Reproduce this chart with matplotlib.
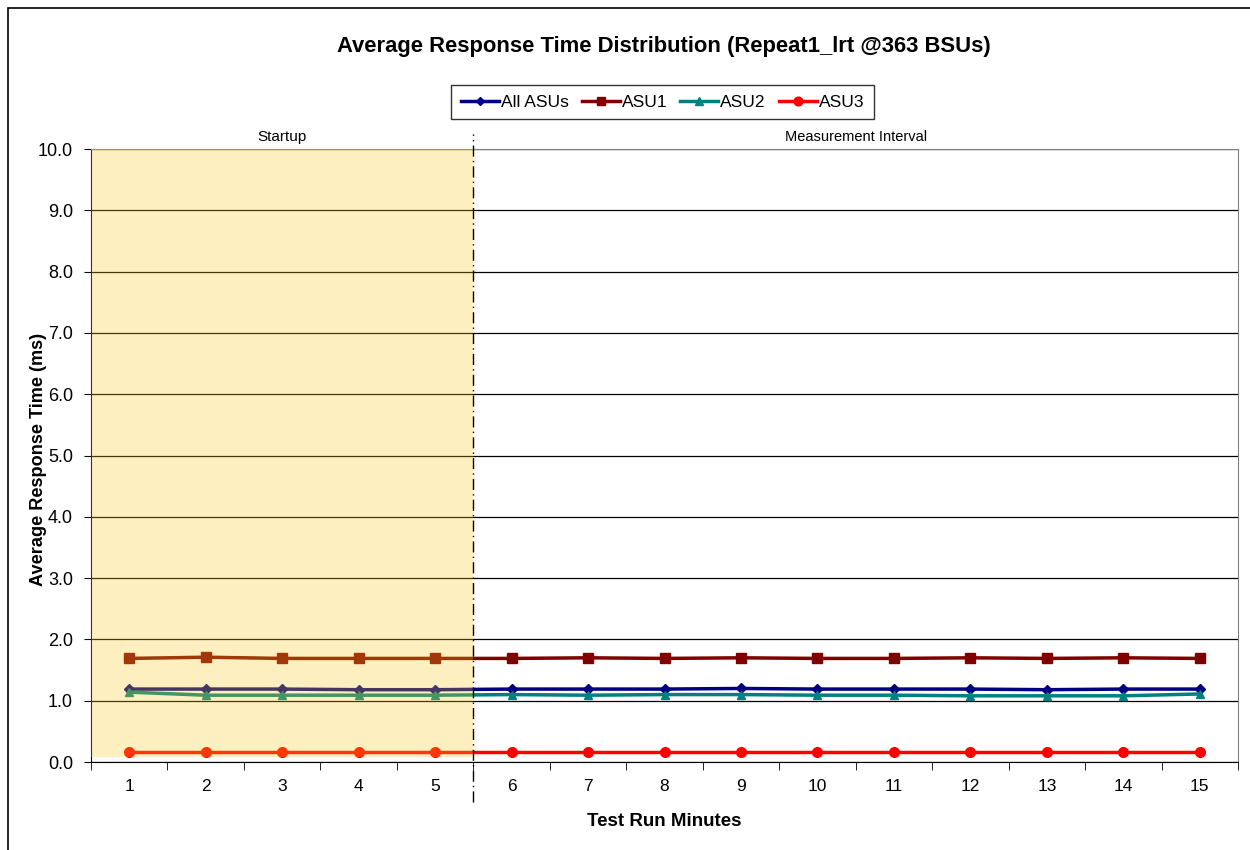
import numpy as np
import matplotlib
matplotlib.use("Agg")
import matplotlib.pyplot as plt
from matplotlib.patches import Rectangle
from matplotlib.lines import Line2D

plt.rcParams['font.family'] = ['Liberation Sans', 'DejaVu Sans']

# data
minutes = list(range(1, 16))
all_asus = [1.19, 1.19, 1.19, 1.18, 1.18, 1.19, 1.19, 1.19, 1.20, 1.19, 1.19, 1.19, 1.18, 1.19, 1.19]
asu1 = [1.69, 1.71, 1.69, 1.69, 1.69, 1.69, 1.70, 1.69, 1.70, 1.69, 1.69, 1.70, 1.69, 1.70, 1.69]
asu2 = [1.14, 1.09, 1.09, 1.09, 1.09, 1.10, 1.09, 1.10, 1.10, 1.09, 1.09, 1.08, 1.08, 1.08, 1.11]
asu3 = [0.17, 0.17, 0.17, 0.17, 0.17, 0.17, 0.17, 0.17, 0.17, 0.17, 0.17, 0.17, 0.17, 0.17, 0.17]
startup_end = 5

fig = plt.figure(figsize=(12.5, 8.5), dpi=100)
ax = fig.add_axes([0.0728, 0.1035, 0.9176, 0.7212])

x = np.arange(1, 16)
series = [
    ("All ASUs", all_asus, "#000080", "D", 5),
    ("ASU1", asu1, "#800000", "s", 7),
    ("ASU2", asu2, "#008080", "^", 6),
    ("ASU3", asu3, "#FF0000", "o", 7),
]
for name, vals, col, mk, ms in series:
    ax.plot(x, vals, color=col, marker=mk, markersize=ms, linewidth=2.5, label=name, zorder=3)

# startup shading drawn over the lines, as in the original
ax.axvspan(0.5, startup_end + 0.5, ymin=0.008, ymax=1.0, facecolor="#FBC81D", alpha=0.28,
           edgecolor="none", zorder=4)

ax.set_xlim(0.5, 15.5)
ax.set_ylim(0, 10)
ax.set_yticks(np.arange(0, 11, 1))
ax.set_yticklabels([f"{v:.1f}" for v in range(0, 11)], fontsize=13)
ax.yaxis.grid(True, color="black", linewidth=0.9)
ax.set_axisbelow(True)

ax.set_xticks(x)
ax.set_xticklabels([str(m) for m in minutes], fontsize=12.5)
ax.set_xticks(np.arange(0.5, 16, 1), minor=True)
ax.tick_params(axis="x", which="major", length=0, pad=12)
ax.tick_params(axis="x", which="minor", length=6, direction="out", color="black")
ax.tick_params(axis="y", length=5, direction="out", color="black", pad=8)

for s in ["top", "right"]:
    ax.spines[s].set_color("#808080")
for s in ["bottom", "left"]:
    ax.spines[s].set_color("black")

ax.set_xlabel("Test Run Minutes", fontsize=13.5, fontweight="bold", labelpad=14)
ax.set_ylabel("Average Response Time (ms)", fontsize=13.1, fontweight="bold")
ax.yaxis.set_label_coords(-0.0384, 0.493)

# startup / measurement divider
div = Line2D([startup_end + 0.5, startup_end + 0.5], [-0.65, 10.25], color="black",
             linestyle=(0, (8, 3, 1, 3)), linewidth=1, clip_on=False, zorder=5)
ax.add_line(div)

ax.text(3.0, 10.08, "Startup", ha="center", va="bottom", fontsize=11)
ax.text(10.5, 10.08, "Measurement Interval", ha="center", va="bottom", fontsize=10.5)

fig.text(0.531, 0.945, "Average Response Time Distribution (Repeat1_lrt @363 BSUs)",
         ha="center", va="center", fontsize=15.8, fontweight="bold")

leg = fig.legend(loc="center", bbox_to_anchor=(0.530, 0.880), ncol=4, fontsize=12.5,
                 frameon=True, fancybox=False, edgecolor="black", handlelength=2.2,
                 handletextpad=0.1, columnspacing=0.75, borderpad=0.55, markerscale=0.9)
leg.get_frame().set_linewidth(1.0)

# outer chart border (top and left visible)
fig.patches.append(Rectangle((8 / 1250, -0.1), 1.2, 1 - 8 / 850 + 0.1,
                             transform=fig.transFigure, fill=False,
                             edgecolor="black", linewidth=1.2))

fig.savefig("out.png", dpi=100)
